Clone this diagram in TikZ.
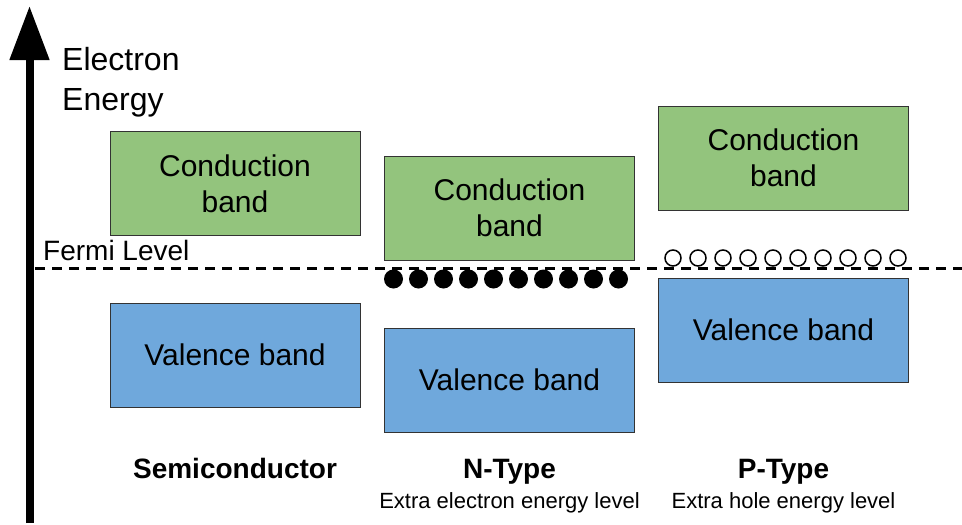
\documentclass[tikz,border=0pt]{standalone}
\usepackage{fontspec}
\setmainfont{Liberation Sans}
\usepackage{xcolor}
\usetikzlibrary{arrows.meta, positioning, calc}
\definecolor{condgreen}{HTML}{93C47D}
\definecolor{valblue}{HTML}{6FA8DC}

\tikzset{
    band/.style={draw=black!80, line width=1pt, minimum width=250pt, minimum height=104pt, align=center, inner sep=0pt, font=\fontsize{30}{36}\selectfont},
    cband/.style={band, fill=condgreen},
    vband/.style={band, fill=valblue},
    title/.style={anchor=base, font=\fontsize{28}{30}\bfseries\selectfont},
    subtitle/.style={anchor=base, font=\fontsize{22}{26}\selectfont}
}

\begin{document}
\begin{tikzpicture}[x=1pt, y=-1pt]
        \useasboundingbox (0,0) rectangle (962,525);
        % Energy axis
        \coordinate (axisbot) at (29.5,523);
        \coordinate (axistop) at (29.5,6);
        \draw [line width=8pt, -{Triangle[length=54pt, width=38pt]}] (axisbot) -- (axistop);
        \node [anchor=base west, align=left, inner sep=0pt, font=\fontsize{32}{40}\selectfont] (energy) at (62,110) {Electron\\Energy};
        % Fermi level
        \coordinate (fermiL) at (35,268);
        \coordinate (fermiR) at (962,268);
        \draw [line width=3pt, dash pattern=on 10pt off 7pt] (fermiL) -- (fermiR);
        \node [anchor=base west, inner sep=0pt, font=\fontsize{28}{30}\selectfont] (fermi) at (43,260) {Fermi Level};
        % Semiconductor
        \node [cband] (cb1) at (235,183.5) {Conduction\\band};
        \node [vband] (vb1) at (235,355) {Valence band};
        \node [title] (semi) at (235,478) {Semiconductor};
        % N-Type
        \node [cband] (cb2) at (509.5,208) {Conduction\\band};
        \node [vband] (vb2) at (509.5,380) {Valence band};
        \foreach \i in {0,...,9} {
            \fill [black] (393.5+25*\i,279) circle (9.5pt);
        }
        \node [title] (ntype) at (509.5,478) {N-Type};
        \node [subtitle] (nsub) at (509.5,508) {Extra electron energy level};
        % P-Type
        \node [cband] (cb3) at (783.5,158) {Conduction\\band};
        \node [vband] (vb3) at (783.5,330) {Valence band};
        \foreach \i in {0,...,9} {
            \draw [black, line width=1.5pt, fill=white] (673+25*\i,258) circle (8pt);
        }
        \node [title] (ptype) at (783.5,478) {P-Type};
        \node [subtitle] (psub) at (783.5,508) {Extra hole energy level};
    \end{tikzpicture}
\end{document}
